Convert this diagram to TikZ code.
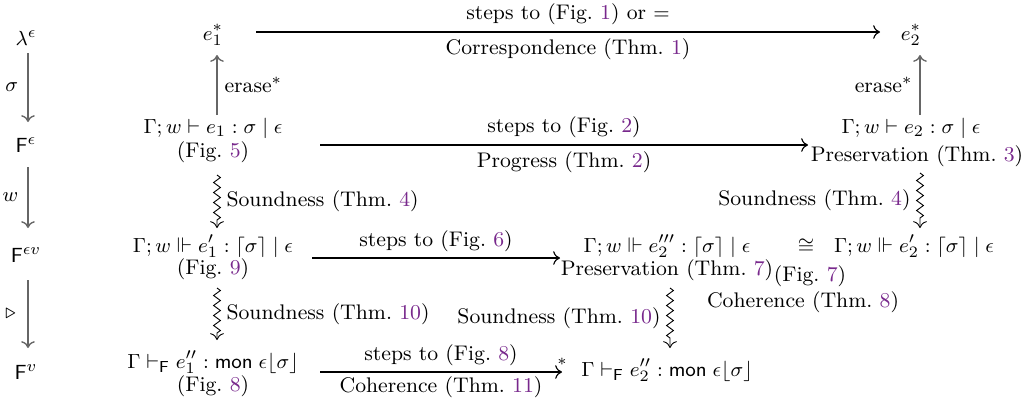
\documentclass[tikz,border=0pt]{standalone}
\usepackage{amsmath,amssymb}
\usetikzlibrary{calc,decorations.pathmorphing,arrows.meta}
\definecolor{acmpurple}{RGB}{120,40,140}
\newcommand{\rf}[1]{\textcolor{acmpurple}{#1}}
\begin{document}
\begin{tikzpicture}[x=0.44pt,y=-0.44pt,
  every node/.style={inner sep=1pt, font=\fontsize{9.3}{11}\selectfont},
  grayarr/.style={draw=black!60, line width=0.6pt, -{To[length=3pt,width=6pt]}},
  harr/.style={draw=black, line width=0.5pt, -{To[length=3pt,width=6pt]}},
  sq/.style={draw=black, line width=0.4pt, decorate,
    decoration={zigzag, amplitude=1.5pt, segment length=4.4pt, post length=2.5pt},
    -{To[length=3pt,width=6pt]}}]
\useasboundingbox (0,0) rectangle (1023,405);

% left column
\node (L1) at (26,38) {$\lambda^{\epsilon}$};
\node (L2) at (26,145) {$\mathsf{F}^{\epsilon}$};
\node (L3) at (26,255) {$\mathsf{F}^{\epsilon v}$};
\node (L4) at (26,372) {$\mathsf{F}^{v}$};
\draw[grayarr] ($(L1)+(2,15)$) -- node[left=3pt] {$\sigma$} ($(L2)+(2,-23)$);
\draw[grayarr] ($(L2)+(2,22)$) -- node[left=3pt] {$w$} ($(L3)+(2,-27)$);
\draw[grayarr] ($(L3)+(2,25)$) -- node[left=4pt] {$\triangleright$} ($(L4)+(2,-24)$);

% row 1
\node (A1) at (213,35) {$e_1^*$};
\node (B1) at (911,35) {$e_2^*$};
% row 2
\node (A2) at (213,128) {$\Gamma; w \vdash e_1 : \sigma \mid \epsilon$};
\node (A2c) at (213,152) {(Fig.~\rf{5})};
\node (B2) at (911,128) {$\Gamma; w \vdash e_2 : \sigma \mid \epsilon$};
\node (B2c) at (917,156) {Preservation (Thm.~\rf{3})};
% row 3
\node (A3) at (213,246) {$\Gamma; w \Vdash e_1' : \lceil\sigma\rceil \mid \epsilon$};
\node (A3c) at (213,269) {(Fig.~\rf{9})};
\node (M3) at (667,246) {$\Gamma; w \Vdash e_2''' : \lceil\sigma\rceil \mid \epsilon$};
\node (M3c) at (667,270) {Preservation (Thm.~\rf{7})};
\node[inner sep=0pt] (C3) at (806,246) {$\cong$};
\node (C3a) at (810,276) {(Fig.~\rf{7})};
\node (C3b) at (803,302) {Coherence (Thm.~\rf{8})};
\node (B3) at (914,246) {$\Gamma; w \Vdash e_2' : \lceil\sigma\rceil \mid \epsilon$};
% row 4
\node (A4) at (213,362) {$\Gamma \vdash_{\mathsf{F}} e_1'' : \mathsf{mon}\;\epsilon\lfloor\sigma\rfloor$};
\node (A4c) at (213,386) {(Fig.~\rf{8})};
\node (M4) at (667,370) {$\Gamma \vdash_{\mathsf{F}} e_2'' : \mathsf{mon}\;\epsilon\lfloor\sigma\rfloor$};

% horizontal arrows
\draw[harr] ($(A1)+(43,-3)$) -- node[above=2pt] {steps to (Fig.~\rf{1}) or $=$}
  node[below=1.5pt] {Correspondence (Thm.~\rf{1})} ($(B1)+(-31,-3)$);
\draw[harr] ($(A2)+(107,17)$) -- node[above=2pt] {steps to (Fig.~\rf{2})}
  node[below=1.5pt] {Progress (Thm.~\rf{2})} ($(B2)+(-103,17)$);
\draw[harr] ($(A3)+(99,12)$) -- node[above=1.5pt] {steps to (Fig.~\rf{6})} ($(M3)+(-107,12)$);
\draw[harr] ($(A4)+(107,10)$) -- node[above=1.5pt] {steps to (Fig.~\rf{8})}
  node[below=1pt] {Coherence (Thm.~\rf{11})}
  node[pos=1, yshift=4.5pt, xshift=0pt, inner sep=0pt] {\scriptsize$*$} ($(M4)+(-105,2)$);

% erase arrows
\draw[grayarr] ($(A2)+(4,-13)$) -- node[right=2pt] {erase$^*$} ($(A1)+(4,20)$);
\draw[grayarr] ($(B2)+(9,-13)$) -- node[left=2pt] {erase$^*$} ($(B1)+(9,20)$);

% soundness squiggles
\draw[sq] ($(A2c)+(4,23)$) -- node[right=3pt] {Soundness (Thm.~\rf{4})} ($(A3)+(4,-18)$);
\draw[sq] ($(B2c)+(3,17)$) -- node[left=3pt] {Soundness (Thm.~\rf{4})} ($(B3)+(6,-18)$);
\draw[sq] ($(A3c)+(4,19)$) -- node[right=3pt] {Soundness (Thm.~\rf{10})} ($(A4)+(4,-22)$);
\draw[sq] ($(M3c)+(3,18)$) -- node[left=3pt] {Soundness (Thm.~\rf{10})} ($(M4)+(3,-22)$);
\end{tikzpicture}
\end{document}
